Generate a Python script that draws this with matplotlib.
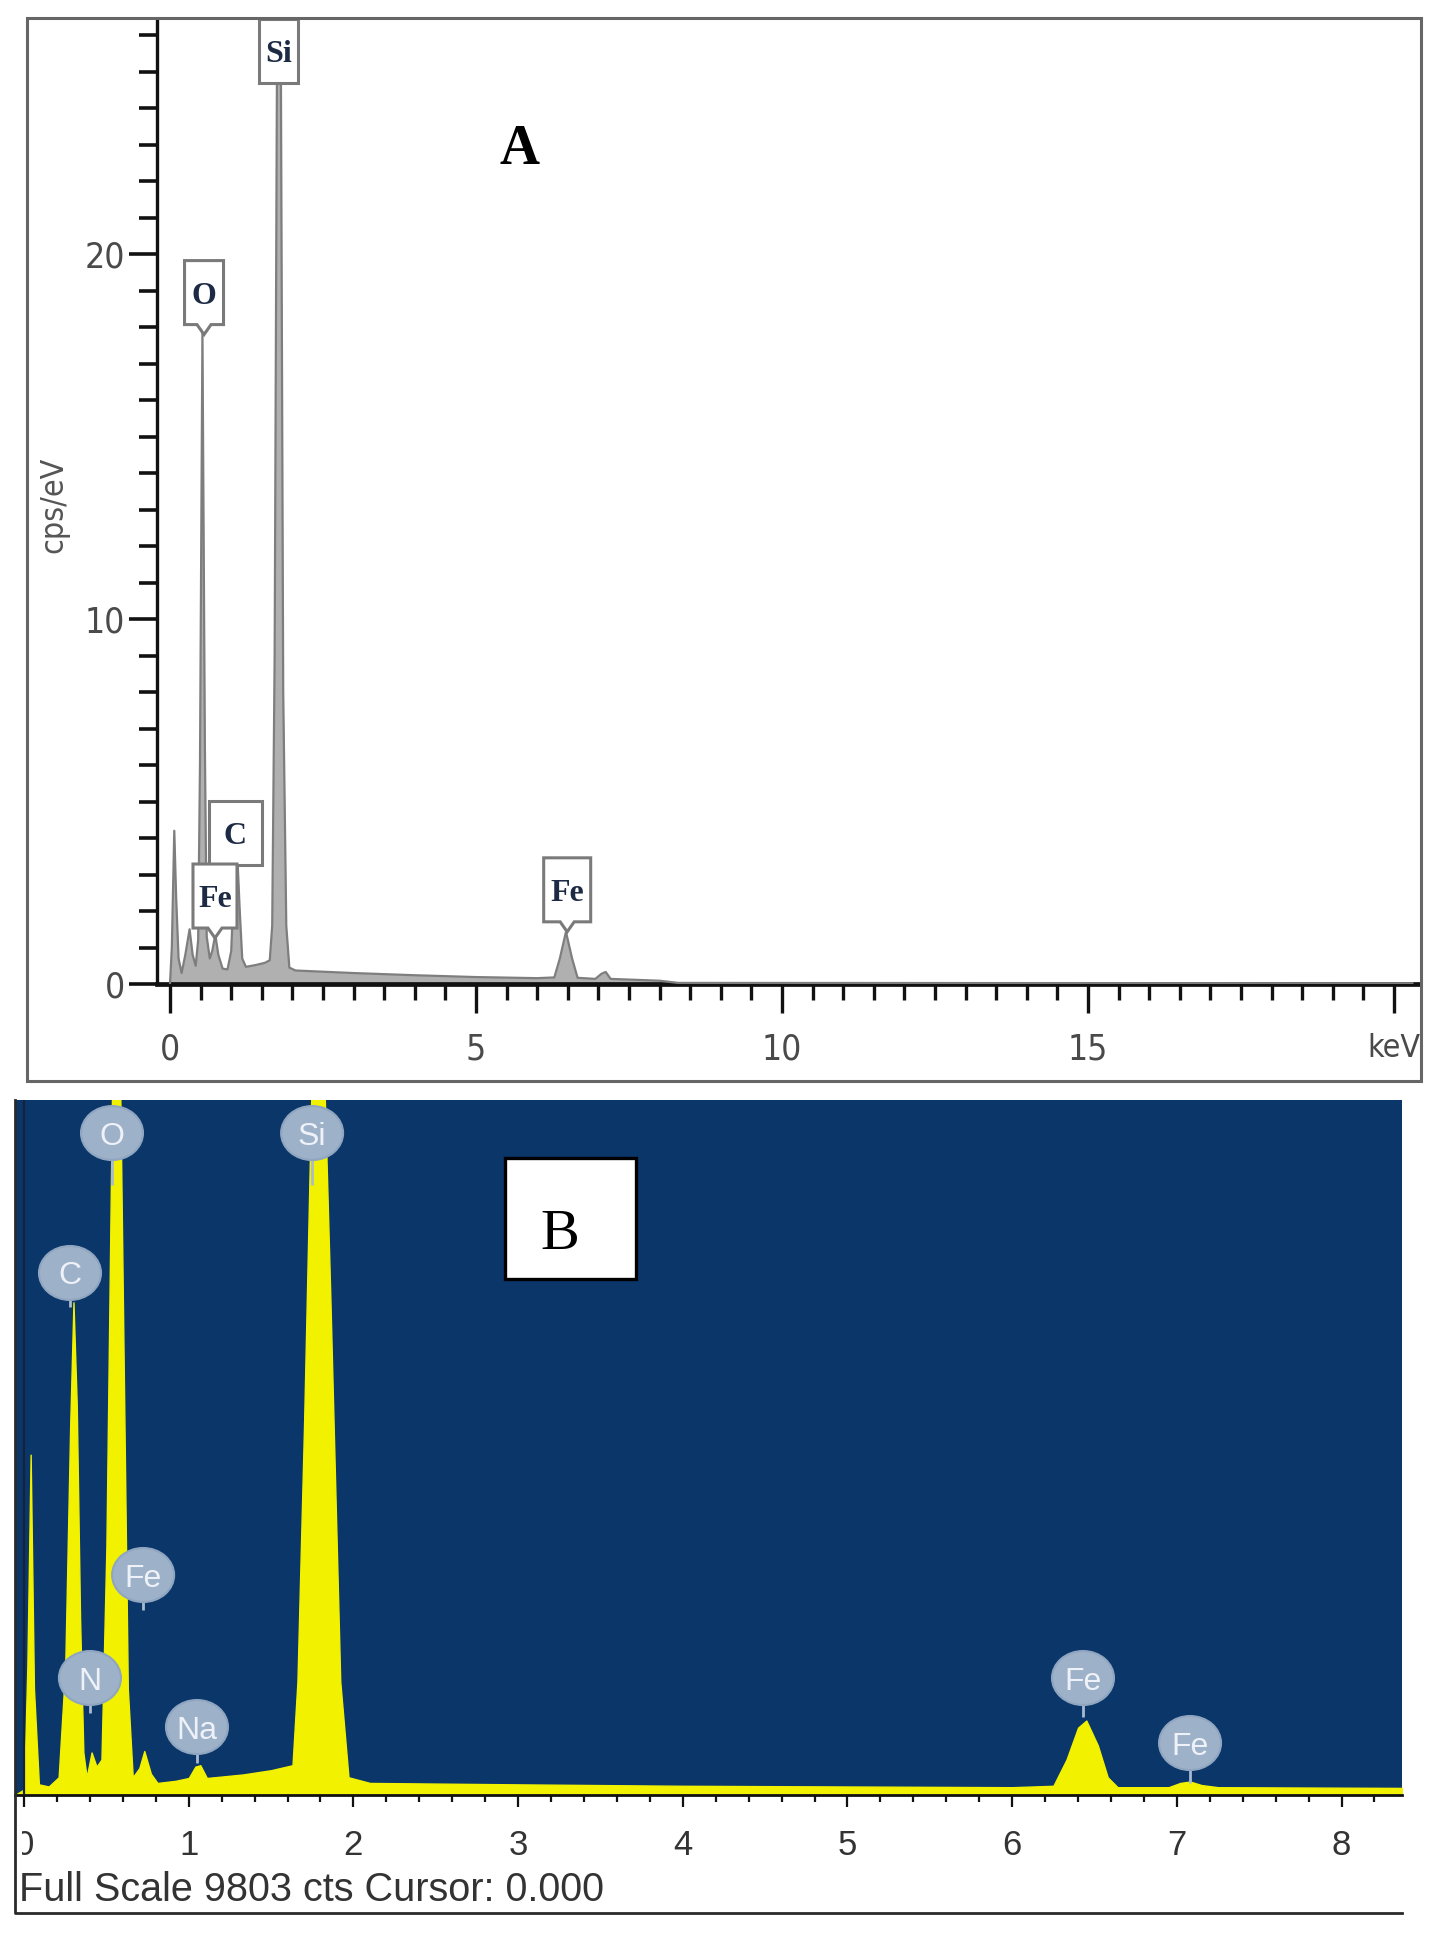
import matplotlib.pyplot as plt
import matplotlib.transforms as mtransforms
from matplotlib.patches import Polygon, Ellipse, Rectangle
from matplotlib.lines import Line2D
from matplotlib.ticker import MultipleLocator

# --- panel A : EDS spectrum (cps/eV vs keV) ---
A_KEV = [0.00, 0.03, 0.07, 0.10, 0.14, 0.19, 0.25, 0.32, 0.37, 0.42, 0.46, 0.49,
         0.53, 0.57, 0.60, 0.65, 0.69, 0.74, 0.79, 0.86, 0.94, 1.00, 1.04, 1.09,
         1.14, 1.18, 1.24, 1.40, 1.55, 1.63, 1.67, 1.71, 1.75, 1.78, 1.81, 1.85,
         1.90, 1.95, 2.05, 3.0, 4.0, 5.0, 6.0, 6.28, 6.37, 6.47, 6.57, 6.66,
         6.95, 7.05, 7.12, 7.20, 8.0, 8.3, 20.3]
A_CPS = [0.0, 1.0, 4.2, 2.4, 0.7, 0.3, 0.8, 1.5, 0.8, 0.5, 1.2, 6.0,
         17.9, 6.5, 1.3, 0.7, 0.9, 1.35, 0.8, 0.42, 0.40, 0.9, 2.5, 3.9,
         2.0, 0.7, 0.47, 0.52, 0.58, 0.65, 1.6, 9.0, 26.0, 30.0, 26.0, 8.0,
         1.6, 0.45, 0.37, 0.30, 0.24, 0.19, 0.16, 0.18, 0.7, 1.43, 0.7, 0.17,
         0.14, 0.28, 0.33, 0.14, 0.09, 0.03, 0.02]
A_XTICKS = [0, 5, 10, 15, 20]
A_XTICKLABELS = ["0", "5", "10", "15", "keV"]
A_YTICKS = [0, 10, 20]

A_LABELS = ["Si", "O", "C", "Fe", "Fe"]
A_LABEL_KEV = [1.77, 0.556, 1.07, 0.735, 6.49]
A_LABEL_CPS = [24.7, 17.8, 3.27, 1.26, 1.43]
A_LABEL_POINTER = [False, True, False, True, True]
A_LABEL_WIDTH = [39, 39, 53, 44, 47]   # px

# --- panel B : EDS spectrum (counts vs keV) ---
B_KEV = [-0.055, 0.00, 0.02, 0.04, 0.06, 0.09, 0.15, 0.21, 0.25, 0.28, 0.30,
         0.32, 0.34, 0.36, 0.38, 0.41, 0.44, 0.47, 0.50, 0.54, 0.57, 0.60,
         0.63, 0.66, 0.70, 0.73, 0.77, 0.81, 0.92, 1.00, 1.04, 1.07, 1.11,
         1.20, 1.33, 1.50, 1.63, 1.66, 1.70, 1.75, 1.80, 1.86, 1.92, 1.97,
         2.10, 3.0, 4.0, 5.0, 6.0, 6.25, 6.33, 6.40, 6.45, 6.52, 6.58, 6.64,
         6.95, 7.02, 7.08, 7.15, 7.25, 8.37]
B_CTS = [0, 80, 1800, 4800, 1500, 150, 120, 250, 1800, 5200, 6950,
         5500, 2500, 600, 250, 600, 400, 500, 3500, 11000, 12500, 7000,
         1500, 250, 380, 620, 300, 170, 200, 240, 400, 420, 240,
         260, 290, 350, 420, 1600, 5200, 10500, 12000, 7000, 1600, 250,
         170, 150, 130, 120, 110, 130, 500, 950, 1050, 700, 250, 110,
         110, 170, 190, 140, 110, 100]
B_FULL_SCALE = 9803
B_XTICKS = [0, 1, 2, 3, 4, 5, 6, 7, 8]

B_LABELS = ["O", "Si", "C", "Fe", "N", "Na", "Fe", "Fe"]
B_LABEL_KEV = [0.534, 1.749, 0.279, 0.723, 0.40, 1.05, 6.43, 7.08]
B_LABEL_CTS = [9337, 9337, 7363, 3103, 1650, 959, 1650, 733]
B_STEM_CTS = [8600, 8600, 6883, 2609, 1157, 451, 1100, 170]

W, H, DPI = 1440, 1942, 100
COND = ["DejaVu Sans"]
SERIF = ["Liberation Serif", "DejaVu Serif"]
SANS = ["Liberation Sans", "DejaVu Sans"]


def fx(px):
    return px / W


def fy(py):
    return 1 - py / H


fig = plt.figure(figsize=(W / DPI, H / DPI), dpi=DPI)


def px_trans(ax, x, y):
    # geometry in inches, anchored on a data point
    return fig.dpi_scale_trans + mtransforms.ScaledTranslation(x, y, ax.transData)


# ================= panel A =================
axA = fig.add_axes([fx(157), fy(984), (1418 - 157) / W, (984 - 19) / H])
axA.fill_between(A_KEV, 0, A_CPS, color="#b0b0b0", lw=0, zorder=2)
axA.plot(A_KEV, A_CPS, color="#7e7e7e", lw=1.6, zorder=3)
axA.set_xlim((157 - 170) / 61.2, (1418 - 170) / 61.2)
axA.set_ylim(0, 26.45)

axA.spines["top"].set_visible(False)
axA.spines["right"].set_visible(False)
axA.spines["left"].set_linewidth(2.4)
axA.spines["bottom"].set_linewidth(3.4)
axA.spines["left"].set_color("#111111")
axA.spines["bottom"].set_color("#111111")

axA.set_xticks(A_XTICKS)
axA.set_xticklabels(A_XTICKLABELS)
axA.xaxis.set_minor_locator(MultipleLocator(0.5))
axA.set_yticks(A_YTICKS)
axA.set_yticklabels([str(v) for v in A_YTICKS])
axA.yaxis.set_minor_locator(MultipleLocator(1))
axA.tick_params(axis="x", which="major", length=21, width=2.4, color="#111111",
                pad=14, labelsize=25.5, labelcolor="#4a4a4a")
axA.tick_params(axis="x", which="minor", length=11.5, width=2.4, color="#111111")
axA.tick_params(axis="y", which="major", length=20, width=2.6, color="#111111",
                pad=3, labelsize=25.5, labelcolor="#4a4a4a")
axA.tick_params(axis="y", which="minor", length=13, width=2.6, color="#111111")
for lbl in axA.get_xticklabels() + axA.get_yticklabels():
    lbl.set_family(COND)
    lbl.set_fontstretch("condensed")
axA.get_xticklabels()[-1].set_fontsize(23)

fig.text(fx(54), fy(505), "cps/eV", rotation=90, ha="center", va="center",
         fontsize=23, color="#555555", family=COND, fontstretch="condensed")

# element label boxes
for name, x, y, pointer, w in zip(A_LABELS, A_LABEL_KEV, A_LABEL_CPS,
                                  A_LABEL_POINTER, A_LABEL_WIDTH):
    h = 64
    d = 10 if pointer else 0
    n = 7
    if pointer:
        verts = [(0, 0), (n, d), (w / 2, d), (w / 2, d + h), (-w / 2, d + h),
                 (-w / 2, d), (-n, d)]
    else:
        verts = [(-w / 2, 0), (w / 2, 0), (w / 2, h), (-w / 2, h)]
    verts = [(vx / DPI, vy / DPI) for vx, vy in verts]
    axA.add_patch(Polygon(verts, closed=True, fc="white", ec="#7a7a7a", lw=2.2,
                          transform=px_trans(axA, x, y), clip_on=False, zorder=4))
    axA.annotate(name, xy=(x, y), xytext=(0, (d + h / 2) * 0.72),
                 textcoords="offset points", ha="center", va="center_baseline",
                 fontsize=23, fontweight="bold", family=SERIF, color="#1c2a44",
                 zorder=5, annotation_clip=False)

fig.text(fx(520), fy(164), "A", ha="center", va="baseline", fontsize=40,
         fontweight="bold", family=SERIF, color="black")

fig.add_artist(Rectangle((fx(27), fy(1081)), (1421 - 27) / W, (1081 - 18) / H,
                         transform=fig.transFigure, fill=False, ec="#666666",
                         lw=2.2))

# ================= panel B =================
axB = fig.add_axes([fx(15), fy(1795), (1402 - 15) / W, (1795 - 1100) / H])
axB.set_facecolor("#0a3669")
axB.fill_between(B_KEV, 0, B_CTS, color="#f2f200", lw=1, ec="#f2f200", zorder=2)
axB.axvline(0, color="#14233a", lw=1.6, zorder=3)
axB.set_xlim(-0.055, 8.367)
axB.set_ylim(0, B_FULL_SCALE)

for side in ["top", "right", "left"]:
    axB.spines[side].set_visible(False)
axB.spines["bottom"].set_linewidth(2)
axB.spines["bottom"].set_color("#111111")
axB.set_yticks([])
axB.set_xticks(B_XTICKS)
axB.set_xticklabels([str(v) for v in B_XTICKS])
axB.xaxis.set_minor_locator(MultipleLocator(0.2))
axB.tick_params(axis="x", which="major", length=8.5, width=1.6, color="#111111",
                pad=16, labelsize=25, labelcolor="#333333")
axB.tick_params(axis="x", which="minor", length=5, width=1.6, color="#111111")
clip = mtransforms.TransformedBbox(
    mtransforms.Bbox([[fx(22), 0], [1, 1]]), fig.transFigure)
for lbl in axB.get_xticklabels():
    lbl.set_family(SANS)
    lbl.set_clip_box(clip)
    lbl.set_clip_on(True)

for name, x, y, ys in zip(B_LABELS, B_LABEL_KEV, B_LABEL_CTS, B_STEM_CTS):
    axB.plot([x, x], [ys, y], color="#a9bbd0", lw=2, zorder=3,
             solid_capstyle="butt")
    axB.add_patch(Ellipse((0, 0), 62 / DPI, 54 / DPI, fc="#9db1c9", ec="#8fa5c0",
                          lw=1.5, transform=px_trans(axB, x, y), zorder=4))
    axB.annotate(name, xy=(x, y), xytext=(0, 0), textcoords="offset points",
                 ha="center", va="center_baseline", fontsize=23, family=SANS,
                 color="#eef2f8", zorder=5)

fig.add_artist(Rectangle((fx(505), fy(1279)), (636 - 505) / W, (1279 - 1158) / H,
                         transform=fig.transFigure, fc="white", ec="black",
                         lw=2.4, zorder=6))
fig.text(fx(560), fy(1249), "B", ha="center", va="baseline", fontsize=42,
         family=SERIF, color="black", zorder=7)

fig.text(fx(19), fy(1890), "Full Scale 9803 cts Cursor: 0.000", ha="left",
         va="center", fontsize=28.5, family=SANS, color="#333333")

fig.add_artist(Line2D([fx(15), fx(15), fx(1402)], [fy(1100), fy(1913), fy(1913)],
                      transform=fig.transFigure, color="#2a2a2a", lw=2))

fig.savefig("out.png", dpi=DPI)
